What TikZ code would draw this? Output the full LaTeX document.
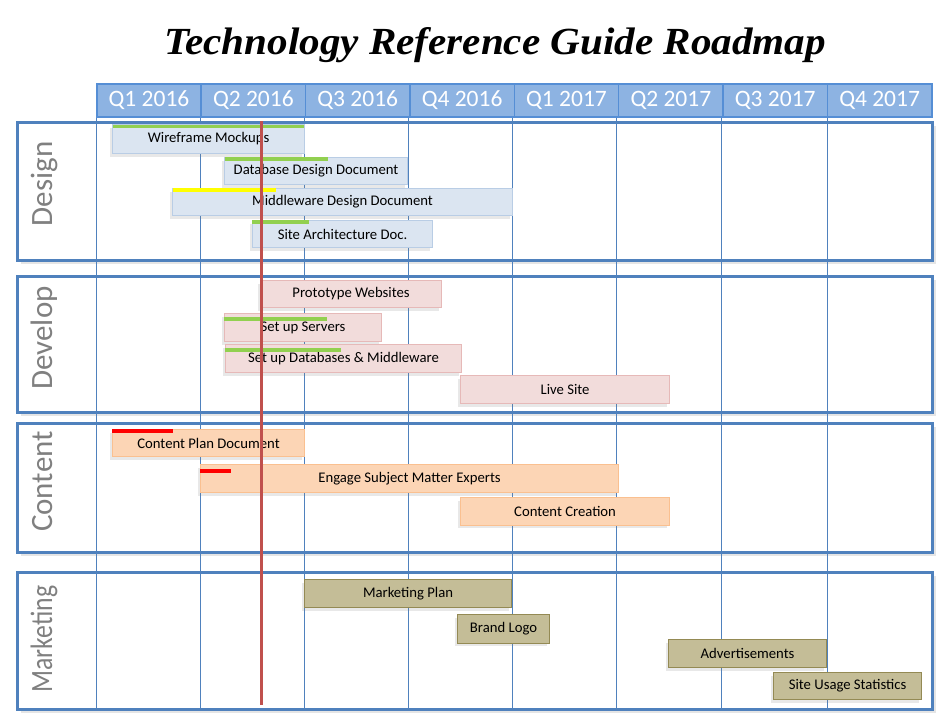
\documentclass[tikz,border=0pt]{standalone}
\usepackage{fontspec}
\setmainfont{Carlito}
\newfontfamily\titlefont{Liberation Serif}
\usetikzlibrary{shadows}
\definecolor{hfill}{HTML}{8DB3E2}
\definecolor{hline}{HTML}{558ED5}
\definecolor{secline}{HTML}{4F81BD}
\definecolor{dfill}{HTML}{DBE5F1}
\definecolor{dline}{HTML}{B9CDE5}
\definecolor{vfill}{HTML}{F2DCDB}
\definecolor{vline}{HTML}{E6B9B8}
\definecolor{cfill}{HTML}{FCD5B5}
\definecolor{cline}{HTML}{FAC090}
\definecolor{mfill}{HTML}{C4BD97}
\definecolor{mline}{HTML}{948A54}
\definecolor{progG}{HTML}{92D050}
\definecolor{progY}{HTML}{FFFF00}
\definecolor{progR}{HTML}{FF0000}
\definecolor{today}{HTML}{C0504D}
\definecolor{labgray}{HTML}{808080}
\begin{document}
\begin{tikzpicture}[x=1pt,y=-1pt,
  hcell/.style={draw=hline, line width=1.6, fill=hfill, text=white, inner sep=0,
    minimum width=104.375, minimum height=33, anchor=north west,
    font=\fontsize{23.5}{25}\selectfont},
  section/.style={draw=secline, line width=3, fill=white, inner sep=0, anchor=north west,
    drop shadow={shadow xshift=3pt, shadow yshift=-3pt, opacity=0.2}},
  gridline/.style={draw=secline, line width=1},
  task/.style={line width=1.1, inner sep=0, anchor=north west,
    font=\fontsize{14.7}{16}\selectfont, text=black,
    drop shadow={shadow xshift=-3pt, shadow yshift=-3pt, opacity=0.18}},
  dtask/.style={task, draw=dline, fill=dfill},
  vtask/.style={task, draw=vline, fill=vfill},
  ctask/.style={task, draw=cline, fill=cfill},
  mtask/.style={task, draw=mline, fill=mfill},
  seclabel/.style={rotate=90, anchor=base, text=labgray, inner sep=0,
    font=\fontsize{31}{33}\selectfont},
]
\fill[white] (0,0) rectangle (942,717);
\useasboundingbox (0,0) rectangle (942,717);

% title
\node[anchor=base, inner sep=0] (title) at (495,55)
  {\resizebox{662pt}{27pt}{\titlefont\bfseries\itshape Technology Reference Guide Roadmap}};

% section boxes
\node[section, minimum width=915, minimum height=138] (design) at (16,121) {};
\node[section, minimum width=915, minimum height=136] (develop) at (16,275) {};
\node[section, minimum width=915, minimum height=129] (content) at (16,422) {};
\node[section, minimum width=915, minimum height=137] (marketing) at (16,571) {};

% grid lines
\foreach \gx in {96,200,304,408,512,616,721,827}
  \draw[gridline] (\gx,116) -- (\gx,708);

% header
\foreach \i/\t in {0/Q1 2016,1/Q2 2016,2/Q3 2016,3/Q4 2016,4/Q1 2017,5/Q2 2017,6/Q3 2017,7/Q4 2017}
  \node[hcell] (h\i) at ({96+\i*104.375},83) {\t};

% section labels
\node[seclabel] (ldesign) at (52,184) {Design};
\node[seclabel] (ldevelop) at (52,338) {Develop};
\node[seclabel] (lcontent) at (52,481.5) {Content};
\node[seclabel] (lmarketing) at (52,639) {\scalebox{0.83}[1]{Marketing}};

% Design tasks
\node[dtask, minimum width=192, minimum height=29] (wire) at (112,124) {Wireframe Mockups};
\fill[progG] (113,124.5) rectangle (304,128);
\node[dtask, minimum width=183, minimum height=27] (dbdoc) at (224,157) {Database Design Document};
\fill[progG] (225,157) rectangle (328,160.5);
\node[dtask, minimum width=340, minimum height=27] (mwdoc) at (172,188) {Middleware Design Document};
\fill[progY] (173,188) rectangle (276,191.5);
\node[dtask, minimum width=180, minimum height=27] (sitearch) at (252,220) {Site Architecture Doc.};
\fill[progG] (252,220) rectangle (309,223.5);

% Develop tasks
\node[vtask, minimum width=181, minimum height=27] (proto) at (260,280) {Prototype Websites};
\node[vtask, minimum width=157, minimum height=28] (servers) at (224,313) {Set up Servers};
\fill[progG] (224,317) rectangle (327,320.7);
\node[vtask, minimum width=236, minimum height=28] (dbmw) at (225,344) {Set up Databases \& Middleware};
\fill[progG] (225,348) rectangle (341,351.7);
\node[vtask, minimum width=209, minimum height=28] (live) at (460,375) {Live Site};

% Content tasks
\node[ctask, minimum width=192, minimum height=27] (cplan) at (112,429) {Content Plan Document};
\fill[progR] (112,429) rectangle (173,432.7);
\node[ctask, minimum width=418, minimum height=28] (engage) at (200,464) {Engage Subject Matter Experts};
\fill[progR] (200,469.3) rectangle (231,472.5);
\node[ctask, minimum width=209, minimum height=27.5] (ccreate) at (460,497) {Content Creation};

% Marketing tasks
\node[mtask, minimum width=207, minimum height=28] (mplan) at (304,579) {Marketing Plan};
\node[mtask, minimum width=92, minimum height=28.5] (brand) at (457,614) {Brand Logo};
\node[mtask, minimum width=158, minimum height=28] (ads) at (668,639) {Advertisements};
\node[mtask, minimum width=148, minimum height=27] (stats) at (773,672) {Site Usage Statistics};

% today line
\draw[today, line width=3.3] (261.5,121) -- (261.5,705);
\end{tikzpicture}
\end{document}
